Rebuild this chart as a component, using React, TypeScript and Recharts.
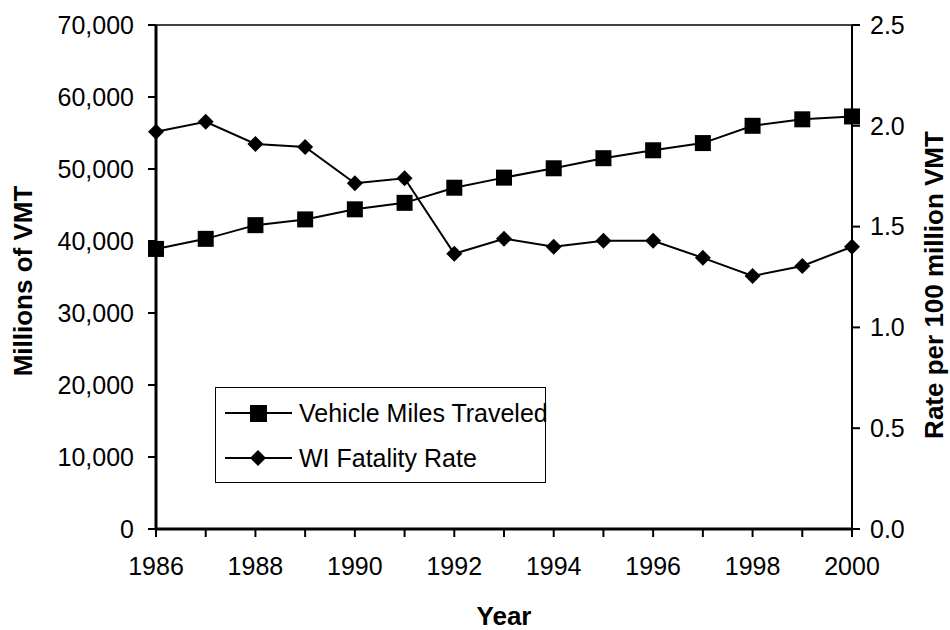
import React from "react";
import { ComposedChart, Line, XAxis, YAxis, ReferenceLine, Legend, Label } from "recharts";

const years = [1986, 1987, 1988, 1989, 1990, 1991, 1992, 1993, 1994, 1995, 1996, 1997, 1998, 1999, 2000];
const vmt = [38900, 40300, 42200, 43000, 44400, 45300, 47400, 48800, 50100, 51500, 52600, 53600, 56000, 56900, 57300];
const fatalityRate = [1.97, 2.02, 1.91, 1.895, 1.715, 1.74, 1.365, 1.44, 1.4, 1.43, 1.43, 1.345, 1.255, 1.305, 1.4];
const leftTicks = [0, 10000, 20000, 30000, 40000, 50000, 60000, 70000];
const rightTicks = [0, 0.5, 1.0, 1.5, 2.0, 2.5];

const data = years.map((year, i) => ({ year, vmt: vmt[i], rate: fatalityRate[i] }));

const FONT = "'Liberation Sans', Arial, sans-serif";
const tickStyle = { fontSize: 25, fill: "#000", fontFamily: FONT };

const fmtComma = (v: number) => v.toLocaleString("en-US");

const SquareDot = (props: any) => {
  const { cx, cy } = props;
  if (cx == null || cy == null) return null;
  return <rect x={cx - 8} y={cy - 8} width={16} height={16} fill="#000" />;
};

const DiamondDot = (props: any) => {
  const { cx, cy } = props;
  if (cx == null || cy == null) return null;
  const r = 8;
  return <polygon points={`${cx},${cy - r} ${cx + r},${cy} ${cx},${cy + r} ${cx - r},${cy}`} fill="#000" />;
};

const LegendBox = () => (
  <div
    style={{
      position: "relative",
      border: "1px solid #000",
      width: 331,
      height: 96,
      boxSizing: "border-box",
      background: "#fff",
      fontFamily: FONT,
      fontSize: 25,
      color: "#000",
    }}
  >
    {[
      { label: "Vehicle Miles Traveled", shape: "square" },
      { label: "WI Fatality Rate", shape: "diamond" },
    ].map((item, i) => (
      <div key={item.label} style={{ position: "absolute", left: 8, top: i === 0 ? 10 : 55, height: 30, display: "flex", alignItems: "center" }}>
        <svg width={70} height={30}>
          <line x1={1} y1={15} x2={68} y2={15} stroke="#000" strokeWidth={2} />
          {item.shape === "square" ? (
            <rect x={26} y={7} width={17} height={17} fill="#000" />
          ) : (
            <polygon points="34,7 42,15 34,23 26,15" fill="#000" />
          )}
        </svg>
        <span style={{ marginLeft: 5, whiteSpace: "nowrap" }}>{item.label}</span>
      </div>
    ))}
  </div>
);

const leftLabel = (props: any) => {
  const vb = props.viewBox;
  const x = 32;
  const y = vb.y + vb.height / 2 + 4;
  return (
    <text x={x} y={y} transform={`rotate(-90, ${x}, ${y})`} textAnchor="middle" fontFamily={FONT} fontSize={26} fontWeight="bold" fill="#000">
      Millions of VMT
    </text>
  );
};

const rightLabel = (props: any) => {
  const vb = props.viewBox;
  const x = 943;
  const y = vb.y + vb.height / 2 + 8;
  return (
    <text x={x} y={y} transform={`rotate(-90, ${x}, ${y})`} textAnchor="middle" fontFamily={FONT} fontSize={26} fontWeight="bold" fill="#000">
      Rate per 100 million VMT
    </text>
  );
};

const bottomLabel = (props: any) => {
  const vb = props.viewBox;
  const x = vb.x + vb.width / 2;
  return (
    <text x={x} y={625} textAnchor="middle" fontFamily={FONT} fontSize={26} fontWeight="bold" fill="#000">
      Year
    </text>
  );
};

export default function App() {
  return (
    <div style={{ position: "absolute", left: 0, top: 0, width: 950, height: 630, background: "#fff" }}>
      <ComposedChart width={950} height={630} data={data} margin={{ top: 25, right: 0, bottom: 0, left: 0 }}>
        <XAxis
          dataKey="year"
          type="number"
          domain={[1986, 2000]}
          ticks={years}
          tickFormatter={(v: number) => (v % 2 === 0 ? String(v) : "")}
          interval={0}
          height={101}
          tick={tickStyle}
          tickSize={8}
          tickMargin={20}
          axisLine={{ stroke: "#000", strokeWidth: 3 }}
          tickLine={{ stroke: "#000", strokeWidth: 2 }}
        >
          <Label content={bottomLabel} />
        </XAxis>
        <YAxis
          yAxisId="left"
          orientation="left"
          domain={[0, 70000]}
          ticks={leftTicks}
          interval={0}
          tickFormatter={fmtComma}
          width={156}
          tick={tickStyle}
          tickSize={8}
          tickMargin={14}
          axisLine={{ stroke: "#000", strokeWidth: 3 }}
          tickLine={{ stroke: "#000", strokeWidth: 2 }}
        >
          <Label content={leftLabel} />
        </YAxis>
        <YAxis
          yAxisId="right"
          orientation="right"
          domain={[0, 2.5]}
          ticks={rightTicks}
          interval={0}
          tickFormatter={(v: number) => v.toFixed(1)}
          width={98}
          tick={tickStyle}
          tickSize={8}
          tickMargin={10}
          axisLine={{ stroke: "#000", strokeWidth: 2 }}
          tickLine={{ stroke: "#000", strokeWidth: 2 }}
        >
          <Label content={rightLabel} />
        </YAxis>
        <ReferenceLine yAxisId="left" y={70000} stroke="#000" strokeWidth={1.5} />
        <Line
          yAxisId="left"
          dataKey="vmt"
          name="Vehicle Miles Traveled"
          type="linear"
          stroke="#000"
          strokeWidth={2}
          dot={<SquareDot />}
          activeDot={false}
          isAnimationActive={false}
        />
        <Line
          yAxisId="right"
          dataKey="rate"
          name="WI Fatality Rate"
          type="linear"
          stroke="#000"
          strokeWidth={2}
          dot={<DiamondDot />}
          activeDot={false}
          isAnimationActive={false}
        />
        <Legend
          content={<LegendBox />}
          layout="horizontal"
          verticalAlign="middle"
          align="center"
          wrapperStyle={{ position: "absolute", left: 215, top: 387, width: 331, height: 96 }}
        />
      </ComposedChart>
    </div>
  );
}
